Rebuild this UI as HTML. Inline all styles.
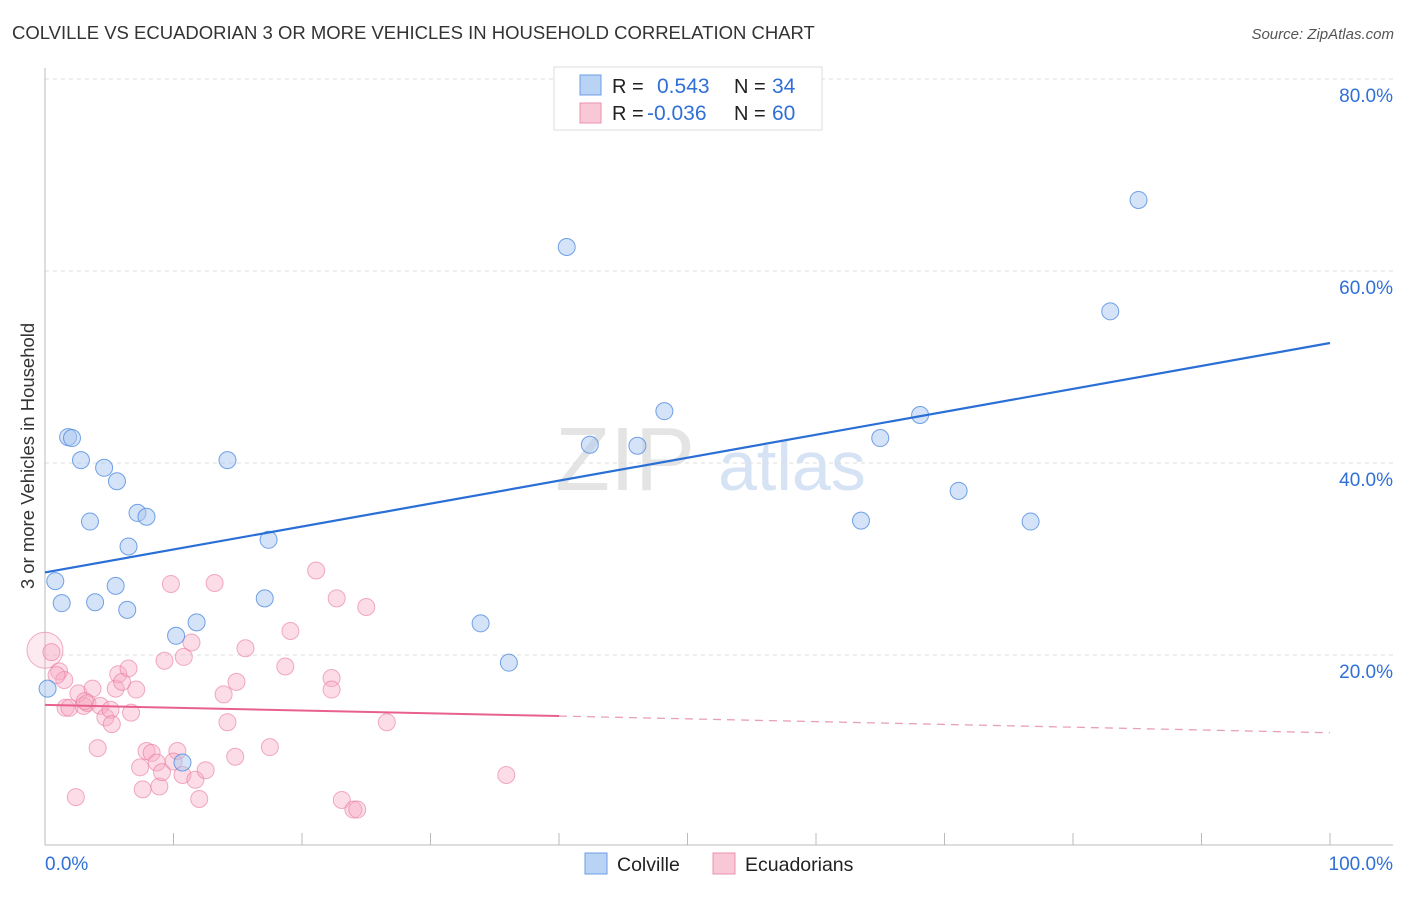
<!DOCTYPE html>
<html><head><meta charset="utf-8"><style>
body{margin:0;background:#fff;font-family:"Liberation Sans",sans-serif;}
svg text{font-family:"Liberation Sans",sans-serif;}
</style></head><body>
<svg id="c" width="1406" height="892">
<text x="12" y="39" font-size="18.5" fill="#333">COLVILLE VS ECUADORIAN 3 OR MORE VEHICLES IN HOUSEHOLD CORRELATION CHART</text>
<text x="1394" y="39" font-size="15" fill="#555" text-anchor="end" font-style="italic">Source: ZipAtlas.com</text>
<text transform="translate(34,456) rotate(-90)" font-size="18.5" fill="#333" text-anchor="middle">3 or more Vehicles in Household</text>
<text x="555" y="490" font-size="90" fill="#e4e4e4" font-family="Liberation Serif">ZIP</text>
<text x="718" y="490" font-size="70" fill="#d6e3f5">atlas</text>
<g id="grid"></g><g id="pts"></g><g id="lines"></g>
<g>
<rect x="554" y="67" width="268" height="63" fill="#fff" stroke="#ddd"/>
<rect x="580" y="75" width="21" height="20" fill="#b9d3f5" stroke="#6d9ee6"/>
<rect x="580" y="103" width="21" height="20" fill="#f9c8d6" stroke="#eb92ae"/>
<text x="612" y="93" font-size="20" fill="#222">R = </text><text x="657" y="93" font-size="21" fill="#2f6fd6">0.543</text>
<text x="734" y="93" font-size="20" fill="#222">N = </text><text x="772" y="93" font-size="21" fill="#2f6fd6">34</text>
<text x="612" y="120" font-size="20" fill="#222">R = </text><text x="647" y="120" font-size="21" fill="#2f6fd6">-0.036</text>
<text x="734" y="120" font-size="20" fill="#222">N = </text><text x="772" y="120" font-size="21" fill="#2f6fd6">60</text>
</g>
<g>
<rect x="585" y="853" width="22" height="21" fill="#b9d3f5" stroke="#6d9ee6"/>
<text x="617" y="871" font-size="19.5" fill="#222">Colville</text>
<rect x="713" y="853" width="22" height="21" fill="#f9c8d6" stroke="#eb92ae"/>
<text x="745" y="871" font-size="19.5" fill="#222">Ecuadorians</text>
</g>
</svg>
<script>
const yTicks=[20,40,60,80];
const xTickLabels=["0.0%","100.0%"];
const blueX=[0.2,0.8,1.3,1.8,2.1,2.8,3.5,3.9,4.6,5.5,5.6,6.4,6.5,7.2,7.9,10.2,10.7,11.8,14.2,17.1,17.4,33.9,36.1,40.6,42.4,46.1,48.2,63.5,65.0,68.1,71.1,76.7,82.9,85.1];
const blueY=[16.5,27.7,25.4,42.7,42.6,40.3,33.9,25.5,39.5,27.2,38.1,24.7,31.3,34.8,34.4,22.0,8.8,23.4,40.3,25.9,32.0,23.3,19.2,62.5,41.9,41.8,45.4,34.0,42.6,45.0,37.1,33.9,55.8,67.4];
const pinkX=[0,0.5,1.1,1.5,1.6,1.9,2.6,4.1,2.4,3.7,3.0,3.3,4.3,4.7,5.1,5.2,5.5,5.7,6.0,6.5,6.7,7.1,7.4,7.9,8.3,8.7,7.6,8.9,9.1,10.3,10.0,10.7,11.7,12.5,12.0,9.3,10.8,11.4,9.8,13.2,13.9,14.9,15.6,14.2,14.8,17.5,18.7,19.1,21.1,22.7,25.0,22.3,22.3,26.6,23.1,24.0,24.3,35.9,0.9,3.1];
const pinkY=[20.5,20.3,18.3,17.4,14.5,14.5,16.0,10.3,5.2,16.5,14.7,15.0,14.7,13.5,14.3,12.8,16.5,18.0,17.2,18.6,14.0,16.4,8.3,10.0,9.8,8.8,6.0,6.3,7.8,10.0,8.9,7.5,7.0,8.0,5.0,19.4,19.8,21.3,27.4,27.5,15.9,17.2,20.7,13.0,9.4,10.4,18.8,22.5,28.8,25.9,25.0,17.6,16.4,13.0,4.9,3.9,3.9,7.5,17.9,15.2];
const blueFit=[28.6,52.5], pinkFit=[14.8,11.9];
const X=v=>45+v*12.85, Y=v=>847-v*9.6;
const ns="http://www.w3.org/2000/svg";
function mk(t,a,p){const e=document.createElementNS(ns,t);for(const k in a)e.setAttribute(k,a[k]);p.appendChild(e);return e;}
const g=document.getElementById('grid');
yTicks.forEach(t=>{
 const l=mk('line',{x1:45,x2:1393,y1:Y(t),y2:Y(t),stroke:'#ddd','stroke-dasharray':'4,4'},g);
 
 
 const tx=mk('text',{x:1393,y:Y(t)+23,'font-size':19,fill:'#2f6fd6','text-anchor':'end'},g);tx.textContent=t+'.0%';
 
 
});
mk('line',{x1:45,x2:45,y1:68,y2:845,stroke:'#bbb'},g);
mk('line',{x1:45,x2:1393,y1:845,y2:845,stroke:'#bbb'},g);
for(let i=0;i<=10;i++){mk('line',{x1:X(i*10),x2:X(i*10),y1:833,y2:845,stroke:'#bbb'},g);}
const xl=mk('text',{x:45,y:870,'font-size':19,fill:'#2f6fd6'},g);xl.textContent=xTickLabels[0];


const xr=mk('text',{x:1393,y:870,'font-size':19,fill:'#2f6fd6','text-anchor':'end'},g);xr.textContent=xTickLabels[1];


const p=document.getElementById('pts');
pinkX.forEach((x,i)=>{
 const c=mk('circle',{cx:X(x),cy:Y(pinkY[i]),r:i==0?18:8.5,fill:i==0?'rgba(247,170,195,0.25)':'rgba(247,170,195,0.4)',stroke:'rgba(232,120,155,0.6)','stroke-width':1},p);
 
 
});
blueX.forEach((x,i)=>{
 const c=mk('circle',{cx:X(x),cy:Y(blueY[i]),r:8.5,fill:'rgba(170,200,240,0.5)',stroke:'rgba(80,140,225,0.8)','stroke-width':1},p);
 
 
});
const L=document.getElementById('lines');
const bl=mk('line',{x1:X(0),y1:Y(blueFit[0]),x2:X(100),y2:Y(blueFit[1]),stroke:'#2a6fd6','stroke-width':2.2},L);


const pm=pinkFit[0]+(pinkFit[1]-pinkFit[0])*0.4;
const pl=mk('line',{x1:X(0),y1:Y(pinkFit[0]),x2:X(40),y2:Y(pm),stroke:'#e8608e','stroke-width':2},L);


const pd=mk('line',{x1:X(40),y1:Y(pm),x2:X(100),y2:Y(pinkFit[1]),stroke:'#e8a0b8','stroke-width':1.3,'stroke-dasharray':'8,6'},L);


</script>
</body></html>
